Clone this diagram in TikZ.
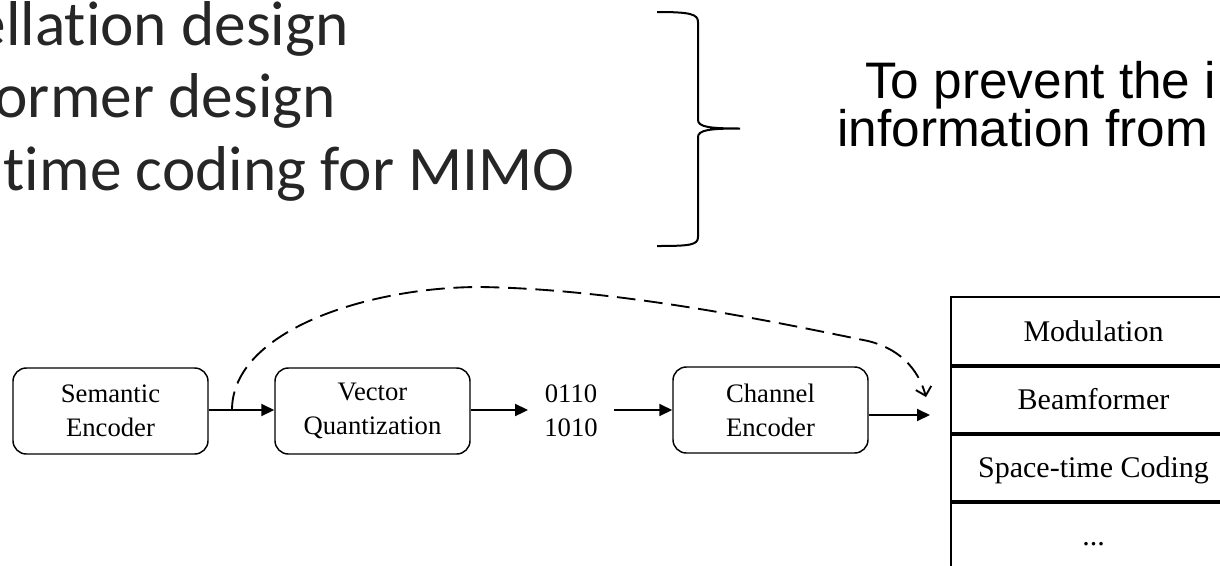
\documentclass[tikz,border=0pt]{standalone}
\usepackage{fontspec}
\setmainfont{Liberation Serif}
\newfontfamily\califont[Ligatures={NoCommon,NoRare}]{Carlito}
\newfontfamily\arialfont{Liberation Sans}
\usetikzlibrary{arrows.meta}
\definecolor{bigtext}{HTML}{262626}
\begin{document}
\begin{tikzpicture}[x=0.75pt,y=-0.75pt,
  box/.style={draw,line width=1.1pt,rounded corners=10pt,minimum width=146.25pt,minimum height=64.5pt,align=center,inner sep=0pt,font=\fontsize{20}{25.5}\selectfont},
  bits/.style={align=center,inner xsep=12pt,inner ysep=0pt,font=\fontsize{20}{25.5}\selectfont},
  arr/.style={line width=1.4pt,-{Triangle[length=9.75pt,width=9pt]}},
  dasharr/.style={line width=1.4pt,dash pattern=on 14pt off 6.5pt,-{Straight Barb[length=6pt,width=12pt]}},
  row/.style={draw,line width=1.5pt,minimum width=213.75pt,minimum height=51pt,inner sep=0pt,text height=15pt,text depth=0pt,font=\fontsize{22.5}{27}\selectfont,anchor=north west},
  sepline/.style={line width=2.4pt},
  bigline/.style={anchor=base east,inner sep=0pt,text=bigtext,font=\califont\fontsize{47.5}{56}\selectfont},
  rtext/.style={anchor=base west,inner sep=0pt,font=\arialfont\fontsize{38.5}{44}\selectfont},
  brace/.style={line width=1.5pt}
]
\useasboundingbox (0,0) rectangle (1220,565);
\clip (0,0) rectangle (1220,565);

% top-left list (cropped)
\node[bigline] (l1) at (349,45) {ellat\kern0pt ion design};
\node[bigline] (l2) at (336,117) {ormer design};
\node[bigline] (l3) at (575,190) {t\kern0pt ime coding for MIMO};

% brace
\draw[brace] (657,12) .. controls (690,12) and (698,14) .. (698,22) -- (698,120)
  .. controls (698,127) and (710,128.5) .. (740,128.5)
  .. controls (710,128.5) and (698,130) .. (698,137) -- (698,237)
  .. controls (698,245) and (690,246) .. (657,246);

% right text (cropped)
\node[rtext] (t1) at (865,98) {To prevent the i};
\node[rtext] (t2) at (837,146) {information from};

% pipeline
\node[box] (se) at (110.5,411) {Semantic\\Encoder};
\node[box] (vq) at (372.5,411) {Vector\\Quantization};
\node[bits] (bt) at (571,411) {0110\\1010};
\node[box] (ch) at (770.5,410) {Channel\\Encoder};

% table
\node[row] (r1) at (950,296) {Modulation};
\node[row] (r2) at (950,364) {Beamformer};
\node[row] (r3) at (950,432) {Space-time Coding};
\node[row] (r4) at (950,500) {...};
\draw[sepline] (r1.south west) -- (r1.south east);
\draw[sepline] (r2.south west) -- (r2.south east);
\draw[sepline] (r3.south west) -- (r3.south east);

\coordinate (tap) at (232,410);
\coordinate (chout) at (930,415);
\coordinate (dtip) at (926,397);

\draw[arr] (se.east |- tap) -- (vq.west |- tap);
\draw[arr] (vq.east |- tap) -- (bt.west |- tap);
\draw[arr] (bt.east |- tap) -- (ch.west |- tap);
\draw[arr] (ch.east |- chout) -- (chout);

\draw[dasharr] (tap) .. controls (232,330) and (370,287) .. (480,287)
  .. controls (620,289) and (780,323) .. (868,341)
  .. controls (905,350) and (920,375) .. (dtip);
\end{tikzpicture}
\end{document}
